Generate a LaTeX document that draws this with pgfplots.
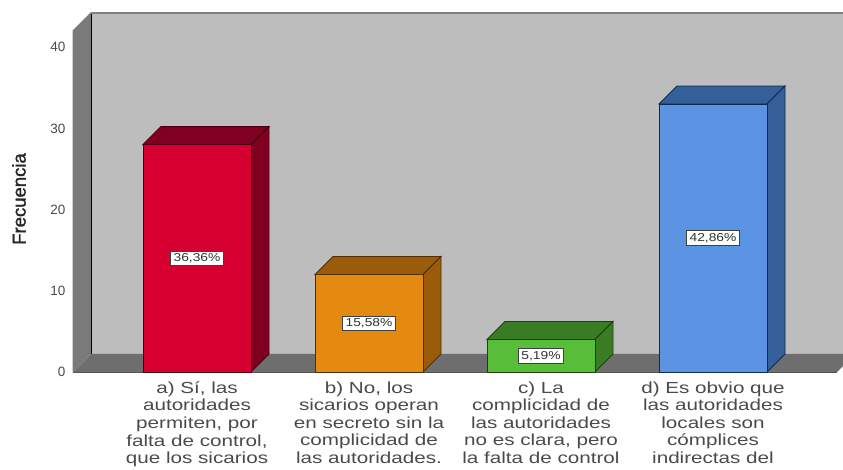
\documentclass[border=0pt]{standalone}
\usepackage{fontspec}
\setmainfont{Liberation Sans}
\newfontfamily\lab[FakeStretch=1.29]{Liberation Sans}
\newfontfamily\val[FakeStretch=1.2]{Liberation Sans}
\newfontfamily\ylab[FakeBold=1.5]{Liberation Sans}
\usepackage{pgfplots}
\pgfplotsset{compat=1.18}
\definecolor{wallback}{HTML}{BDBDBD}
\definecolor{wallside}{HTML}{7A7A7A}
\definecolor{wallfloor}{HTML}{6E6E6E}
\definecolor{txt}{HTML}{4A4A4A}
\definecolor{redF}{HTML}{D5002F}\definecolor{redS}{HTML}{7F0020}\definecolor{redE}{HTML}{4A0010}
\definecolor{oraF}{HTML}{E48A10}\definecolor{oraS}{HTML}{9A5C0A}\definecolor{oraE}{HTML}{4F2F05}
\definecolor{greF}{HTML}{58BD38}\definecolor{greS}{HTML}{3A7C24}\definecolor{greE}{HTML}{1D4012}
\definecolor{bluF}{HTML}{5A94E2}\definecolor{bluS}{HTML}{355F98}\definecolor{bluE}{HTML}{10294F}
\begin{document}
\begin{tikzpicture}[x=1pt,y=1pt]
\path[clip,use as bounding box] (-73,-97) rectangle (770,372);
\begin{axis}[
  at={(0,0)},anchor=south west,
  scale only axis,width=782pt,height=360pt,
  xmin=-0.7209,xmax=3.8256,ymin=0,ymax=44.33,
  axis line style={draw=none},
  major tick length=0pt,
  /pgf/number format/assume math mode=true,
  xtick={0,1,2,3},
  xticklabels={{a) Sí, las\\autoridades\\permiten, por\\falta de control,\\que los sicarios},
               {b) No, los\\sicarios operan\\en secreto sin la\\complicidad de\\las autoridades.},
               {c) La\\complicidad de\\las autoridades\\no es clara, pero\\la falta de control},
               {d) Es obvio que\\las autoridades\\locales son\\cómplices\\indirectas del}},
  x tick label style={align=center,text=txt,yshift=-6pt,
    font={\lab\fontsize{16}{17.6}\selectfont}},
  ytick={0,10,20,30,40},
  y tick label style={text=txt,font={\fontsize{13.5}{14}\selectfont},xshift=-4pt},
  ylabel={Frecuencia},
  ylabel style={at={(axis description cs:-0.06905,0.4806)},anchor=center,
    font={\ylab\fontsize{18.5}{20}\selectfont},text=black!85},
  clip=true,
]
% walls
\addplot[fill=wallback,draw=none] coordinates {(-0.6162,2.217)(3.8256,2.217)(3.8256,44.33)(-0.6162,44.33)} --cycle;
\addplot[fill=wallside,draw=none] coordinates {(-0.7209,0)(-0.6162,2.217)(-0.6162,44.33)(-0.7209,42.11)} --cycle;
\addplot[fill=wallfloor,draw=none] coordinates {(-0.7209,0)(-0.6162,2.217)(3.8256,2.217)(3.7209,0)} --cycle;
\addplot[draw=black,line width=1pt] coordinates {(-0.7209,0)(-0.7209,42.11)};
\addplot[draw=black,line width=1pt] coordinates {(-0.6162,2.217)(-0.6162,44.33)};
\addplot[draw=gray,line width=1.2pt] coordinates {(-0.6162,44.2)(3.8256,44.2)};
\addplot[draw=wallside!70!black,line width=.8pt] coordinates {(-0.7209,0)(3.7209,0)};
% bar a
\addplot[fill=redS,draw=redE,line width=.9pt] coordinates {(-0.314,28)(-0.2093,30.217)(0.4187,30.217)(0.314,28)} --cycle;
\addplot[fill=redS,draw=redE,line width=.9pt] coordinates {(0.314,0)(0.4187,2.217)(0.4187,30.217)(0.314,28)} --cycle;
\addplot[ybar,bar shift=0pt,bar width=108pt,fill=redF,draw=redE,line width=.9pt] coordinates {(0,28)};
% bar b
\addplot[fill=oraS,draw=oraE,line width=.9pt] coordinates {(0.686,12)(0.7907,14.217)(1.4187,14.217)(1.314,12)} --cycle;
\addplot[fill=oraS,draw=oraE,line width=.9pt] coordinates {(1.314,0)(1.4187,2.217)(1.4187,14.217)(1.314,12)} --cycle;
\addplot[ybar,bar shift=0pt,bar width=108pt,fill=oraF,draw=oraE,line width=.9pt] coordinates {(1,12)};
% bar c
\addplot[fill=greS,draw=greE,line width=.9pt] coordinates {(1.686,4)(1.7907,6.217)(2.4187,6.217)(2.314,4)} --cycle;
\addplot[fill=greS,draw=greE,line width=.9pt] coordinates {(2.314,0)(2.4187,2.217)(2.4187,6.217)(2.314,4)} --cycle;
\addplot[ybar,bar shift=0pt,bar width=108pt,fill=greF,draw=greE,line width=.9pt] coordinates {(2,4)};
% bar d
\addplot[fill=bluS,draw=bluE,line width=.9pt] coordinates {(2.686,33)(2.7907,35.217)(3.4187,35.217)(3.314,33)} --cycle;
\addplot[fill=bluS,draw=bluE,line width=.9pt] coordinates {(3.314,0)(3.4187,2.217)(3.4187,35.217)(3.314,33)} --cycle;
\addplot[ybar,bar shift=0pt,bar width=108pt,fill=bluF,draw=bluE,line width=.9pt] coordinates {(3,33)};
% value labels
\addplot[draw=none,mark=none,point meta=explicit symbolic,
  nodes near coords,
  nodes near coords align=center,
  every node near coord/.style={anchor=center,fill=white,draw=black!75,line width=.8pt,text=black!80,
    inner xsep=3pt,inner ysep=2.5pt,font={\val\fontsize{11.5}{12}\selectfont}}]
  table[x=x,y=y,meta=lab] {
x y lab
0 14 36,36\%
1 6 15,58\%
2 2 5,19\%
3 16.5 42,86\%
};
\end{axis}
\end{tikzpicture}
\end{document}
